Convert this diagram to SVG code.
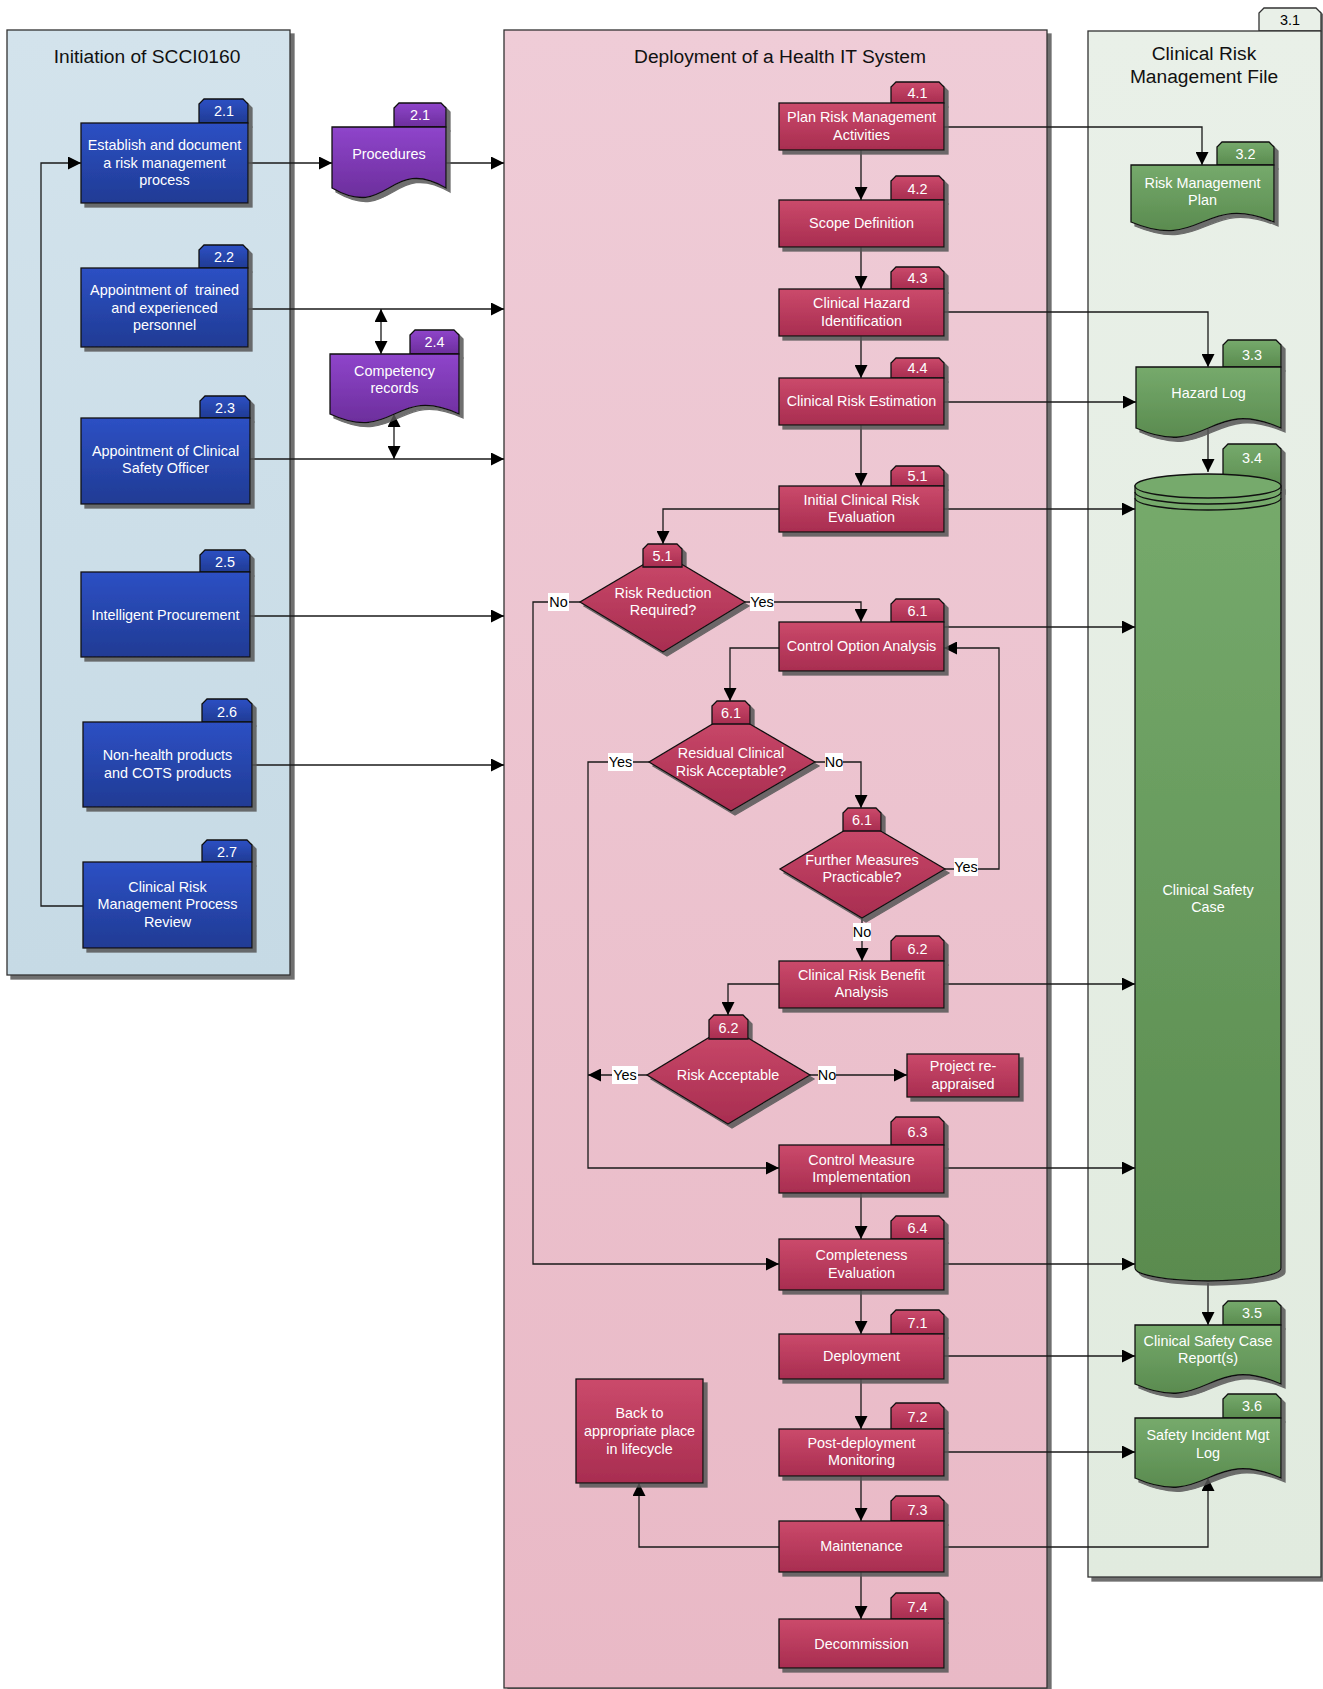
<svg xmlns="http://www.w3.org/2000/svg" width="1323" height="1689" viewBox="0 0 1323 1689">
<style>
.t{font-family:"Liberation Sans",Arial,sans-serif;font-size:14.4px;fill:#fff;text-anchor:middle}
.h{font-family:"Liberation Sans",Arial,sans-serif;font-size:19.2px;fill:#111;text-anchor:middle}
.lb{font-family:"Liberation Sans",Arial,sans-serif;font-size:14.4px;fill:#000;text-anchor:middle}
.lbg{fill:#fff}
.ed{stroke:#111;stroke-width:1.3}
.c{fill:none;stroke:#1a1a1a;stroke-width:1.3}
.a{marker-end:url(#ar)}
.aa{marker-end:url(#ar);marker-start:url(#ar)}
.pb{stroke:#333;stroke-width:1.3}
</style>
<defs>
<linearGradient id="gB" x1="0" y1="0" x2="0" y2="1"><stop offset="0" stop-color="#2d50c4"/><stop offset="1" stop-color="#203b94"/></linearGradient>
<linearGradient id="gP" x1="0" y1="0" x2="0" y2="1"><stop offset="0" stop-color="#8f45cb"/><stop offset="1" stop-color="#6c2e9c"/></linearGradient>
<linearGradient id="gR" x1="0" y1="0" x2="0" y2="1"><stop offset="0" stop-color="#cb4a6b"/><stop offset="1" stop-color="#a82d50"/></linearGradient>
<linearGradient id="gG" x1="0" y1="0" x2="0" y2="1"><stop offset="0" stop-color="#76aa6c"/><stop offset="1" stop-color="#5a8b4f"/></linearGradient>
<linearGradient id="gL" x1="0" y1="0" x2="0" y2="1"><stop offset="0" stop-color="#d3e3ec"/><stop offset="1" stop-color="#c6dae5"/></linearGradient>
<linearGradient id="gM" x1="0" y1="0" x2="0" y2="1"><stop offset="0" stop-color="#efccd7"/><stop offset="1" stop-color="#e9b9c6"/></linearGradient>
<linearGradient id="gRt" x1="0" y1="0" x2="0" y2="1"><stop offset="0" stop-color="#e9f0e8"/><stop offset="1" stop-color="#e1ebdf"/></linearGradient>
<filter id="sh" x="-10%" y="-10%" width="130%" height="130%"><feDropShadow dx="4" dy="4" stdDeviation="0.6" flood-color="#555" flood-opacity="0.85"/></filter>
<marker id="ar" markerUnits="userSpaceOnUse" markerWidth="14" markerHeight="13" refX="13" refY="6.5" orient="auto-start-reverse"><path d="M0,0 L13,6.5 L0,13 Z" fill="#000"/></marker>
</defs>

<!-- Panels -->
<g id="panel-initiation">
<rect x="7" y="30" width="283" height="945" fill="url(#gL)" class="pb" filter="url(#sh)"/>
<text class="h" x="147" y="63">Initiation of SCCI0160</text>
</g>
<g id="panel-deployment">
<rect x="504" y="30" width="543" height="1658" fill="url(#gM)" class="pb" filter="url(#sh)"/>
<text class="h" x="780" y="63">Deployment of a Health IT System</text>
</g>
<g id="panel-crmf">
<g filter="url(#sh)">
<path d="M1259,31 V13 L1264,8 H1316 L1321,13 V31 Z" fill="#e9f0e8" class="pb"/>
<rect x="1088" y="31" width="233" height="1546" fill="url(#gRt)" class="pb"/>
</g>
<text class="lb" x="1290" y="25">3.1</text>
<text class="h" x="1204" y="60">Clinical Risk</text>
<text class="h" x="1204" y="83">Management File</text>
</g>

<!-- Connectors -->
<g id="connectors">
<path class="c a" d="M83,906 H41 V163 H81"/>
<path class="c a" d="M248,163 H332"/>
<path class="c a" d="M446,163 H504"/>
<path class="c a" d="M248,309 H504"/>
<path class="c aa" d="M381,309 V354"/>
<path class="c aa" d="M394,414 V459"/>
<path class="c a" d="M250,459 H504"/>
<path class="c a" d="M250,616 H504"/>
<path class="c a" d="M252,765 H504"/>
<path class="c a" d="M944,127 H1202 V165"/>
<path class="c a" d="M861,150 V200"/>
<path class="c a" d="M861,247 V289"/>
<path class="c a" d="M944,312 H1208 V367"/>
<path class="c a" d="M861,336 V378"/>
<path class="c a" d="M944,402 H1136"/>
<path class="c a" d="M861,425 V486"/>
<path class="c a" d="M1208,428 V472"/>
<path class="c a" d="M944,509 H1135"/>
<path class="c a" d="M779,509 H663 V544"/>
<path class="c a" d="M745,602 H861 V622"/>
<path class="c a" d="M580,602 H533 V1264 H779"/>
<path class="c a" d="M944,627 H1135"/>
<path class="c a" d="M779,648 H730 V701"/>
<path class="c a" d="M815,762 H861 V808"/>
<path class="c a" d="M649,762 H588 V1168 H779"/>
<path class="c a" d="M945,869 H999 V648 H944"/>
<path class="c a" d="M862,918 V961"/>
<path class="c a" d="M944,984 H1135"/>
<path class="c a" d="M779,984 H728 V1015"/>
<path class="c a" d="M647,1075 H588"/>
<path class="c a" d="M810,1075 H907"/>
<path class="c a" d="M944,1168 H1135"/>
<path class="c a" d="M861,1193 V1239"/>
<path class="c a" d="M944,1264 H1135"/>
<path class="c a" d="M861,1290 V1334"/>
<path class="c a" d="M1208,1283 V1325"/>
<path class="c a" d="M944,1356 H1135"/>
<path class="c a" d="M861,1379 V1429"/>
<path class="c a" d="M944,1452 H1135"/>
<path class="c a" d="M861,1476 V1521"/>
<path class="c a" d="M944,1547 H1208 V1478"/>
<path class="c a" d="M779,1547 H639 V1483"/>
<path class="c a" d="M861,1572 V1619"/>
<!-- labels -->
<rect class="lbg" x="750" y="593" width="24" height="18"/><text class="lb" x="762" y="607">Yes</text>
<rect class="lbg" x="548" y="593" width="21" height="18"/><text class="lb" x="558.5" y="607">No</text>
<rect class="lbg" x="608" y="753" width="25" height="18"/><text class="lb" x="620.5" y="767">Yes</text>
<rect class="lbg" x="825" y="753" width="18" height="18"/><text class="lb" x="834" y="767">No</text>
<rect class="lbg" x="954" y="858" width="24" height="18"/><text class="lb" x="966" y="872">Yes</text>
<rect class="lbg" x="853" y="923" width="18" height="18"/><text class="lb" x="862" y="937">No</text>
<rect class="lbg" x="612" y="1066" width="26" height="18"/><text class="lb" x="625" y="1080">Yes</text>
<rect class="lbg" x="818" y="1066" width="18" height="18"/><text class="lb" x="827" y="1080">No</text>
</g>

<!-- Initiation nodes -->
<g id="n2-1"><g filter="url(#sh)"><path d="M199,123 V104 L204,99 H243 L248,104 V123 Z" fill="url(#gB)" class="ed"/><rect x="81" y="123" width="167" height="80" fill="url(#gB)" class="ed"/></g>
<text class="t" x="224" y="116">2.1</text><text class="t" x="164.5" y="150">Establish and document</text><text class="t" x="164.5" y="168">a risk management</text><text class="t" x="164.5" y="185">process</text></g>
<g id="n2-2"><g filter="url(#sh)"><path d="M199,268 V250 L204,245 H243 L248,250 V268 Z" fill="url(#gB)" class="ed"/><rect x="81" y="268" width="167" height="79" fill="url(#gB)" class="ed"/></g>
<text class="t" x="224" y="262">2.2</text><text class="t" x="164.5" y="295" style="white-space:pre">Appointment of  trained</text><text class="t" x="164.5" y="313">and experienced</text><text class="t" x="164.5" y="330">personnel</text></g>
<g id="n2-3"><g filter="url(#sh)"><path d="M200,418 V401 L205,396 H245 L250,401 V418 Z" fill="url(#gB)" class="ed"/><rect x="81" y="418" width="169" height="86" fill="url(#gB)" class="ed"/></g>
<text class="t" x="225" y="413">2.3</text><text class="t" x="165.5" y="456">Appointment of Clinical</text><text class="t" x="165.5" y="473">Safety Officer</text></g>
<g id="n2-5"><g filter="url(#sh)"><path d="M200,572 V555 L205,550 H245 L250,555 V572 Z" fill="url(#gB)" class="ed"/><rect x="81" y="572" width="169" height="85" fill="url(#gB)" class="ed"/></g>
<text class="t" x="225" y="567">2.5</text><text class="t" x="165.5" y="620">Intelligent Procurement</text></g>
<g id="n2-6"><g filter="url(#sh)"><path d="M202,722 V704 L207,699 H247 L252,704 V722 Z" fill="url(#gB)" class="ed"/><rect x="83" y="722" width="169" height="85" fill="url(#gB)" class="ed"/></g>
<text class="t" x="227" y="717">2.6</text><text class="t" x="167.5" y="760">Non-health products</text><text class="t" x="167.5" y="778">and COTS products</text></g>
<g id="n2-7"><g filter="url(#sh)"><path d="M202,862 V845 L207,840 H247 L252,845 V862 Z" fill="url(#gB)" class="ed"/><rect x="83" y="862" width="169" height="86" fill="url(#gB)" class="ed"/></g>
<text class="t" x="227" y="857">2.7</text><text class="t" x="167.5" y="892">Clinical Risk</text><text class="t" x="167.5" y="909">Management Process</text><text class="t" x="167.5" y="927">Review</text></g>

<!-- Purple documents -->
<g id="n-procedures"><g filter="url(#sh)"><path d="M394,127 V108 L399,103 H441 L446,108 V127 Z" fill="url(#gP)" class="ed"/><path d="M332,127 H446 V188 C389,155 389,221 332,188 Z" fill="url(#gP)" class="ed"/></g>
<text class="t" x="420" y="120">2.1</text><text class="t" x="389" y="159">Procedures</text></g>
<g id="n-competency"><g filter="url(#sh)"><path d="M410,354 V335 L415,330 H454 L459,335 V354 Z" fill="url(#gP)" class="ed"/><path d="M330,354 H459 V414 C394.5,384 394.5,444 330,414 Z" fill="url(#gP)" class="ed"/></g>
<text class="t" x="434.5" y="347">2.4</text><text class="t" x="394.5" y="376">Competency</text><text class="t" x="394.5" y="393">records</text></g>

<!-- Deployment boxes -->
<g id="n4-1"><g filter="url(#sh)"><path d="M891,103 V87 L896,82 H939 L944,87 V103 Z" fill="url(#gR)" class="ed"/><rect x="779" y="103" width="165" height="47" fill="url(#gR)" class="ed"/></g>
<text class="t" x="917.5" y="98">4.1</text><text class="t" x="861.5" y="122">Plan Risk Management</text><text class="t" x="861.5" y="140">Activities</text></g>
<g id="n4-2"><g filter="url(#sh)"><path d="M891,200 V181 L896,176 H939 L944,181 V200 Z" fill="url(#gR)" class="ed"/><rect x="779" y="200" width="165" height="47" fill="url(#gR)" class="ed"/></g>
<text class="t" x="917.5" y="194">4.2</text><text class="t" x="861.5" y="228">Scope Definition</text></g>
<g id="n4-3"><g filter="url(#sh)"><path d="M891,289 V272 L896,267 H939 L944,272 V289 Z" fill="url(#gR)" class="ed"/><rect x="779" y="289" width="165" height="47" fill="url(#gR)" class="ed"/></g>
<text class="t" x="917.5" y="283">4.3</text><text class="t" x="861.5" y="308">Clinical Hazard</text><text class="t" x="861.5" y="326">Identification</text></g>
<g id="n4-4"><g filter="url(#sh)"><path d="M891,378 V363 L896,358 H939 L944,363 V378 Z" fill="url(#gR)" class="ed"/><rect x="779" y="378" width="165" height="47" fill="url(#gR)" class="ed"/></g>
<text class="t" x="917.5" y="373">4.4</text><text class="t" x="861.5" y="406">Clinical Risk Estimation</text></g>
<g id="n5-1"><g filter="url(#sh)"><path d="M891,486 V471 L896,466 H939 L944,471 V486 Z" fill="url(#gR)" class="ed"/><rect x="779" y="486" width="165" height="46" fill="url(#gR)" class="ed"/></g>
<text class="t" x="917.5" y="481">5.1</text><text class="t" x="861.5" y="505">Initial Clinical Risk</text><text class="t" x="861.5" y="522">Evaluation</text></g>
<g id="d5-1"><g filter="url(#sh)"><path d="M663,553 L745,602 L663,652 L580,602 Z" fill="url(#gR)" class="ed"/><path d="M643,567 V549 L648,544 H677 L682,549 V567 Z" fill="url(#gR)" class="ed"/></g>
<text class="t" x="662.5" y="561">5.1</text><text class="t" x="663" y="598">Risk Reduction</text><text class="t" x="663" y="615">Required?</text></g>
<g id="n6-1"><g filter="url(#sh)"><path d="M891,622 V604 L896,599 H939 L944,604 V622 Z" fill="url(#gR)" class="ed"/><rect x="779" y="622" width="165" height="49" fill="url(#gR)" class="ed"/></g>
<text class="t" x="917.5" y="616">6.1</text><text class="t" x="861.5" y="651">Control Option Analysis</text></g>
<g id="d6-1a"><g filter="url(#sh)"><path d="M731,713 L815,762 L731,811 L649,762 Z" fill="url(#gR)" class="ed"/><path d="M712,724 V706 L717,701 H745 L750,706 V724 Z" fill="url(#gR)" class="ed"/></g>
<text class="t" x="731" y="718">6.1</text><text class="t" x="731" y="758">Residual Clinical</text><text class="t" x="731" y="776">Risk Acceptable?</text></g>
<g id="d6-1b"><g filter="url(#sh)"><path d="M862,820 L945,869 L862,918 L780,869 Z" fill="url(#gR)" class="ed"/><path d="M843,831 V813 L848,808 H876 L881,813 V831 Z" fill="url(#gR)" class="ed"/></g>
<text class="t" x="862" y="825">6.1</text><text class="t" x="862" y="865">Further Measures</text><text class="t" x="862" y="882">Practicable?</text></g>
<g id="n6-2"><g filter="url(#sh)"><path d="M891,961 V941 L896,936 H939 L944,941 V961 Z" fill="url(#gR)" class="ed"/><rect x="779" y="961" width="165" height="47" fill="url(#gR)" class="ed"/></g>
<text class="t" x="917.5" y="954">6.2</text><text class="t" x="861.5" y="980">Clinical Risk Benefit</text><text class="t" x="861.5" y="997">Analysis</text></g>
<g id="d6-2"><g filter="url(#sh)"><path d="M728,1026 L810,1075 L728,1124 L647,1075 Z" fill="url(#gR)" class="ed"/><path d="M709,1039 V1020 L714,1015 H743 L748,1020 V1039 Z" fill="url(#gR)" class="ed"/></g>
<text class="t" x="728.5" y="1033">6.2</text><text class="t" x="728" y="1080">Risk Acceptable</text></g>
<g id="n-reappraised"><rect x="907" y="1054" width="112" height="43" fill="url(#gR)" class="ed" filter="url(#sh)"/>
<text class="t" x="963" y="1071">Project re-</text><text class="t" x="963" y="1089">appraised</text></g>
<g id="n6-3"><g filter="url(#sh)"><path d="M891,1145 V1122 L896,1117 H939 L944,1122 V1145 Z" fill="url(#gR)" class="ed"/><rect x="779" y="1145" width="165" height="48" fill="url(#gR)" class="ed"/></g>
<text class="t" x="917.5" y="1137">6.3</text><text class="t" x="861.5" y="1165">Control Measure</text><text class="t" x="861.5" y="1182">Implementation</text></g>
<g id="n6-4"><g filter="url(#sh)"><path d="M891,1239 V1221 L896,1216 H939 L944,1221 V1239 Z" fill="url(#gR)" class="ed"/><rect x="779" y="1239" width="165" height="51" fill="url(#gR)" class="ed"/></g>
<text class="t" x="917.5" y="1233">6.4</text><text class="t" x="861.5" y="1260">Completeness</text><text class="t" x="861.5" y="1278">Evaluation</text></g>
<g id="n7-1"><g filter="url(#sh)"><path d="M891,1334 V1315 L896,1310 H939 L944,1315 V1334 Z" fill="url(#gR)" class="ed"/><rect x="779" y="1334" width="165" height="45" fill="url(#gR)" class="ed"/></g>
<text class="t" x="917.5" y="1328">7.1</text><text class="t" x="861.5" y="1361">Deployment</text></g>
<g id="n7-2"><g filter="url(#sh)"><path d="M891,1429 V1408 L896,1403 H939 L944,1408 V1429 Z" fill="url(#gR)" class="ed"/><rect x="779" y="1429" width="165" height="47" fill="url(#gR)" class="ed"/></g>
<text class="t" x="917.5" y="1422">7.2</text><text class="t" x="861.5" y="1448">Post-deployment</text><text class="t" x="861.5" y="1465">Monitoring</text></g>
<g id="n7-3"><g filter="url(#sh)"><path d="M891,1521 V1501 L896,1496 H939 L944,1501 V1521 Z" fill="url(#gR)" class="ed"/><rect x="779" y="1521" width="165" height="51" fill="url(#gR)" class="ed"/></g>
<text class="t" x="917.5" y="1515">7.3</text><text class="t" x="861.5" y="1551">Maintenance</text></g>
<g id="n7-4"><g filter="url(#sh)"><path d="M891,1619 V1598 L896,1593 H939 L944,1598 V1619 Z" fill="url(#gR)" class="ed"/><rect x="779" y="1619" width="165" height="49" fill="url(#gR)" class="ed"/></g>
<text class="t" x="917.5" y="1612">7.4</text><text class="t" x="861.5" y="1649">Decommission</text></g>
<g id="n-backto"><rect x="576" y="1379" width="127" height="104" fill="url(#gR)" class="ed" filter="url(#sh)"/>
<text class="t" x="639.5" y="1418">Back to</text><text class="t" x="639.5" y="1436">appropriate place</text><text class="t" x="639.5" y="1454">in lifecycle</text></g>

<!-- CRMF nodes -->
<g id="n3-2"><g filter="url(#sh)"><path d="M1217,165 V147 L1222,142 H1269 L1274,147 V165 Z" fill="url(#gG)" class="ed"/><path d="M1131,165 H1274 V222 C1202.5,192 1202.5,252 1131,222 Z" fill="url(#gG)" class="ed"/></g>
<text class="t" x="1245.5" y="159">3.2</text><text class="t" x="1202.5" y="188">Risk Management</text><text class="t" x="1202.5" y="205">Plan</text></g>
<g id="n3-3"><g filter="url(#sh)"><path d="M1223,367 V345 L1228,340 H1276 L1281,345 V367 Z" fill="url(#gG)" class="ed"/><path d="M1136,367 H1281 V428 C1208.5,396 1208.5,460 1136,428 Z" fill="url(#gG)" class="ed"/></g>
<text class="t" x="1252" y="360">3.3</text><text class="t" x="1208.5" y="398">Hazard Log</text></g>
<g id="n3-4"><g filter="url(#sh)"><path d="M1223,490 V449 L1228,444 H1276 L1281,449 V490 Z" fill="url(#gG)" class="ed"/>
<path d="M1135,486 V1268 A73,13 0 0 0 1281,1268 V486 Z" fill="url(#gG)" class="ed"/></g>
<ellipse cx="1208" cy="486" rx="73" ry="12" fill="#76aa6c" class="ed"/>
<path d="M1135,492 A73,12 0 0 0 1281,492 M1135,498 A73,12 0 0 0 1281,498" fill="none" class="ed"/>
<text class="t" x="1252" y="463">3.4</text><text class="t" x="1208" y="895">Clinical Safety</text><text class="t" x="1208" y="912">Case</text></g>
<g id="n3-5"><g filter="url(#sh)"><path d="M1223,1325 V1306 L1228,1301 H1276 L1281,1306 V1325 Z" fill="url(#gG)" class="ed"/><path d="M1135,1325 H1281 V1384 C1208,1352 1208,1416 1135,1384 Z" fill="url(#gG)" class="ed"/></g>
<text class="t" x="1252" y="1318">3.5</text><text class="t" x="1208" y="1346">Clinical Safety Case</text><text class="t" x="1208" y="1363">Report(s)</text></g>
<g id="n3-6"><g filter="url(#sh)"><path d="M1223,1418 V1399 L1228,1394 H1276 L1281,1399 V1418 Z" fill="url(#gG)" class="ed"/><path d="M1135,1418 H1281 V1478 C1208,1446 1208,1510 1135,1478 Z" fill="url(#gG)" class="ed"/></g>
<text class="t" x="1252" y="1411">3.6</text><text class="t" x="1208" y="1440">Safety Incident Mgt</text><text class="t" x="1208" y="1458">Log</text></g>
</svg>
